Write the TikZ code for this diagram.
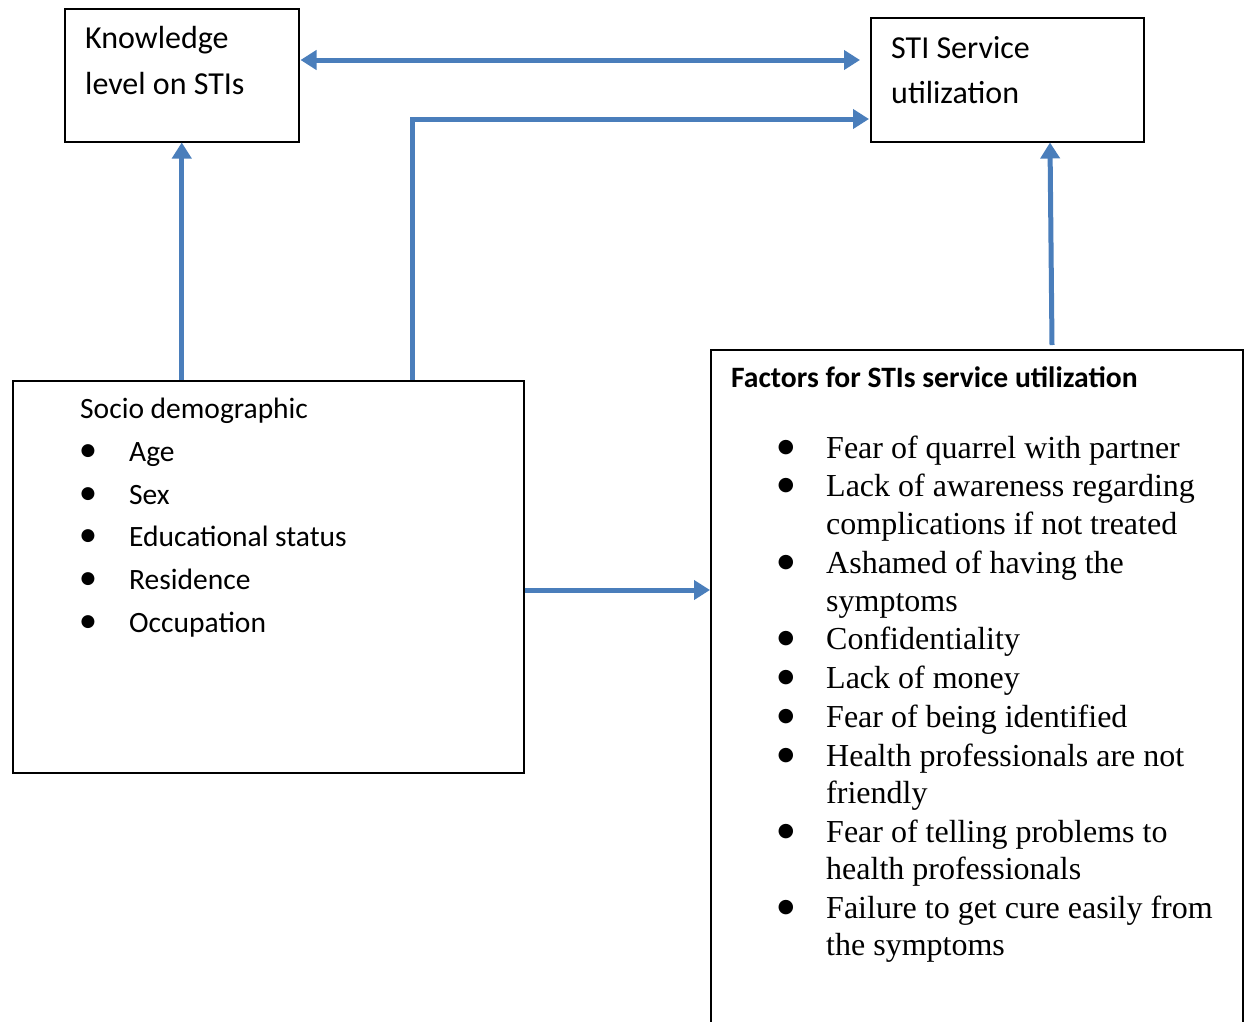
\documentclass[tikz,border=0pt]{standalone}
\usepackage{fontspec}
\setmainfont{Liberation Serif}
\newfontfamily\calfont{Carlito}
\newfontfamily\dejafont{DejaVu Sans}
\usetikzlibrary{arrows.meta,calc}
\definecolor{arrowblue}{RGB}{74,126,187}
\tikzset{
  box/.style={draw=black, line width=1.5pt, rectangle, anchor=north west, inner sep=0pt},
  ttext/.style={font=\calfont\fontsize{32}{38}\selectfont, anchor=base west, inner sep=0pt},
  stext/.style={font=\calfont\fontsize{29.5}{35}\selectfont, anchor=base west, inner sep=0pt},
  btext/.style={font=\calfont\bfseries\fontsize{29.6}{35}\selectfont, anchor=base west, inner sep=0pt},
  rtext/.style={font=\fontsize{32}{38}\selectfont, anchor=base west, inner sep=0pt},
  lbul/.style={font=\dejafont\fontsize{17}{17}\selectfont, anchor=center, inner sep=0pt, yshift=10pt},
  rbul/.style={font=\dejafont\fontsize{19}{19}\selectfont, anchor=center, inner sep=0pt, yshift=10pt},
  conn/.style={draw=arrowblue, line width=5pt},
  tip/.tip={Triangle[length=16pt,width=19pt]}
}
\begin{document}
\begin{tikzpicture}[x=1pt,y=-1pt]
\useasboundingbox (0,0) rectangle (1248,1021);
\clip (0,0) rectangle (1248,1021);
% boxes
\node[box, minimum width=234pt, minimum height=133pt] (know) at (64,8) {};
\node[box, minimum width=273pt, minimum height=124pt] (sti) at (870,17) {};
\node[box, minimum width=511pt, minimum height=392pt] (socio) at (12,380) {};
\node[box, minimum width=532pt, minimum height=700pt] (fac) at (710,349) {};
% texts
\node[ttext] (k1) at (85,48) {Knowledge};
\node[ttext] (k2) at (85,94) {level on STIs};
\node[ttext] (s1) at (891,58) {STI Service};
\node[ttext] (s2) at (891,103) {utilization};
\node[stext] (d0) at (80,418) {Socio demographic};
\node[lbul] (db1) at (88,461) {●};
\node[stext] (d1) at (129,461) {Age};
\node[lbul] (db2) at (88,504) {●};
\node[stext] (d2) at (129,504) {Sex};
\node[lbul] (db3) at (88,546) {●};
\node[stext] (d3) at (129,546) {Educational status};
\node[lbul] (db4) at (88,589) {●};
\node[stext] (d4) at (129,589) {Residence};
\node[lbul] (db5) at (88,632) {●};
\node[stext] (d5) at (129,632) {Occupation};
\node[btext] (f0) at (731,387) {Factors for STIs service utilization};
\node[rbul] (fb1) at (786,458) {●};
\node[rtext] (f1) at (826,458) {Fear of quarrel with partner};
\node[rbul] (fb2) at (786,496) {●};
\node[rtext] (f2) at (826,496) {Lack of awareness regarding};
\node[rtext] (f2b) at (826,534) {complications if not treated};
\node[rbul] (fb3) at (786,573) {●};
\node[rtext] (f3) at (826,573) {Ashamed of having the};
\node[rtext] (f3b) at (826,611) {symptoms};
\node[rbul] (fb4) at (786,649) {●};
\node[rtext] (f4) at (826,649) {Confidentiality};
\node[rbul] (fb5) at (786,688) {●};
\node[rtext] (f5) at (826,688) {Lack of money};
\node[rbul] (fb6) at (786,727) {●};
\node[rtext] (f6) at (826,727) {Fear of being identified};
\node[rbul] (fb7) at (786,766) {●};
\node[rtext] (f7) at (826,766) {Health professionals are not};
\node[rtext] (f7b) at (826,803) {friendly};
\node[rbul] (fb8) at (786,842) {●};
\node[rtext] (f8) at (826,842) {Fear of telling problems to};
\node[rtext] (f8b) at (826,879) {health professionals};
\node[rbul] (fb9) at (786,918) {●};
\node[rtext] (f9) at (826,918) {Failure to get cure easily from};
\node[rtext] (f9b) at (826,955) {the symptoms};
% connectors
\coordinate (dA) at ($(know.north east)+(1,52)$);
\coordinate (dB) at ($(sti.north west)+(-10,43)$);
\draw[conn, tip-tip] (dA) -- (dB);
\coordinate (eA) at ($(socio.north west)+(400,0)$);
\coordinate (eB) at ($(sti.north west)+(-1,102)$);
\draw[conn, -tip] (eA) |- (eB);
\draw[conn, -tip] (know.south |- socio.north) -- (know.south);
\coordinate (rA) at ($(fac.north west)+(342,-4)$);
\coordinate (rB) at ($(sti.south west)+(180,0)$);
\draw[conn, -tip] (rA) -- (rB);
\coordinate (hA) at ($(socio.north east)+(0,210)$);
\draw[conn, -tip] (hA) -- (fac.west |- hA);
\end{tikzpicture}
\end{document}
